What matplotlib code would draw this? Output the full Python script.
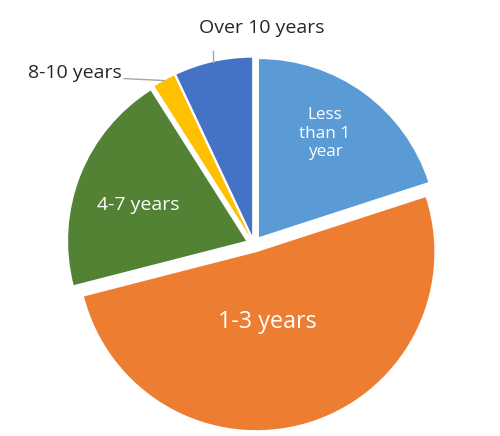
import matplotlib.pyplot as plt
import numpy as np

# tenure share, going clockwise from 12 o'clock
labels = ['Less\nthan 1\nyear', '1-3 years', '4-7 years', '8-10 years', 'Over 10 years']
shares = [20, 51, 20, 2, 7]
colors = ['#5B9BD5', '#ED7D31', '#548235', '#FFC000', '#4472C4']

plt.rcParams['font.family'] = ['Open Sans', 'DejaVu Sans']

fig = plt.figure(figsize=(5, 4.36), dpi=100)
ax = fig.add_axes([0, 0, 1, 1])

R = 178
cx, cy = 254, 192
wedges, _ = ax.pie(shares, colors=colors, startangle=90, counterclock=False,
                   radius=R, center=(cx, cy), explode=[8.5] * len(shares))
ax.set_xlim(0, 500)
ax.set_ylim(0, 436)
ax.set_aspect('equal')
ax.axis('off')


def mid_point(w, frac, shift=0):
    # shift is in degrees, clockwise positive
    mid = np.deg2rad((w.theta1 + w.theta2) / 2 - shift)
    return (w.center[0] + frac * R * np.cos(mid),
            w.center[1] + frac * R * np.sin(mid))


# labels inside the big slices: (radius fraction, angle shift, font size)
inside = {0: (0.69, -3.5, 12.3), 1: (0.40, 7, 16.8), 2: (0.64, -3, 14)}
for i, (frac, shift, fs) in inside.items():
    x, y = mid_point(wedges[i], frac, shift)
    ax.text(x, y, labels[i], color='white', fontsize=fs, ha='center',
            va='center', linespacing=1.2)

# small slices get leader lines
dark = '#262626'
lead = '#A6A6A6'
x, y = mid_point(wedges[4], 1.0)
ax.plot([x, x], [y, y + 11], color=lead, lw=1)
ax.text(x + 48, y + 34, labels[4], color=dark, fontsize=14, ha='center', va='center')

x, y = mid_point(wedges[3], 1.0)
ax.plot([x, x - 40], [y, y + 2], color=lead, lw=1)
ax.text(x - 42, y + 8, labels[3], color=dark, fontsize=14, ha='right', va='center')

fig.savefig('out.png', dpi=100)
